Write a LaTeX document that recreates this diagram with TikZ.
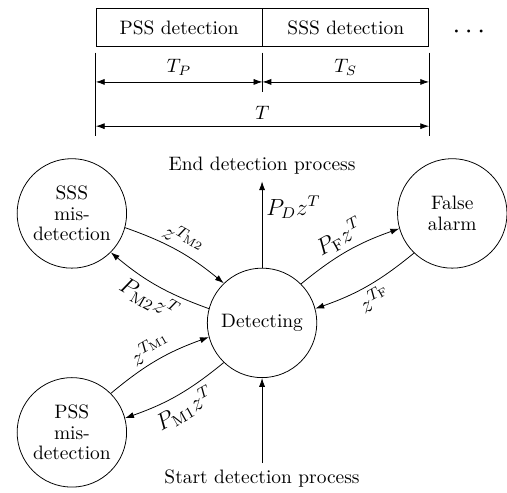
\documentclass[tikz,border=0pt]{standalone}
\usepackage{amsmath}
\usepackage{amssymb}
\usepackage{tikz}
\usetikzlibrary{arrows.meta,positioning,calc}

\begin{document}
\begin{tikzpicture}[
    node distance=0.5cm,
    box/.style={draw, minimum width=3cm, minimum height=0.69cm, text centered},
    stage/.style={draw, circle, minimum size=1.98cm, inner sep=0pt, align=center, font={\fontsize{10}{10.5}\selectfont}},
    arrow/.style={-{Latex[length=1.6mm, width=1.1mm]}},
    dim/.style={{Latex[length=1.6mm, width=1.1mm]}-{Latex[length=1.6mm, width=1.1mm]}},
    lbl/.style={font=\large, inner sep=2pt},
    tick/.style={line width=0.4pt}
]
    \useasboundingbox (-4.74,-3.075) rectangle (4.43,5.84);

    % timing bar
    \node[box] (pssbox) at (-1.5,5.34) {PSS detection};
    \node[box, right=0pt of pssbox] (sssbox) {SSS detection};
    \node[right=0.3cm of sssbox, yshift=-2.5pt] (dots) {\Large$\cdots$};

    \coordinate (l1) at ($(pssbox.south west)+(0,-0.1)$);
    \coordinate (l2) at ($(pssbox.south west)+(0,-1.61)$);
    \coordinate (m1) at ($(pssbox.south east)+(0,-0.1)$);
    \coordinate (m2) at ($(pssbox.south east)+(0,-0.81)$);
    \coordinate (r1) at ($(sssbox.south east)+(0,-0.1)$);
    \coordinate (r2) at ($(sssbox.south east)+(0,-1.61)$);
    \draw[tick] (l1) -- (l2);
    \draw[tick] (m1) -- (m2);
    \draw[tick] (r1) -- (r2);

    \coordinate (a1) at ($(pssbox.south west)+(0,-0.63)$);
    \coordinate (a2) at ($(pssbox.south east)+(0,-0.63)$);
    \coordinate (a3) at ($(sssbox.south east)+(0,-0.63)$);
    \coordinate (b1) at ($(pssbox.south west)+(0,-1.43)$);
    \coordinate (b3) at ($(sssbox.south east)+(0,-1.43)$);
    \draw[dim] (a1) -- (a2) node[midway, above] {$T_P$};
    \draw[dim] (a2) -- (a3) node[midway, above] {$T_S$};
    \draw[dim] (b1) -- (b3) node[midway, above] {$T$};

    % state diagram
    \node[stage] (det) at (0,0) {Detecting};
    \node[stage] (sss) at (-3.44,1.98) {SSS\\mis-\\detection};
    \node[stage] (fa) at (3.44,1.98) {False\\alarm};
    \node[stage] (pss) at (-3.44,-1.98) {PSS\\mis-\\detection};
    \node (stop) at (0,2.84) {End detection process};
    \node (start) at (0,-2.82) {Start detection process};

    \draw[arrow] (det) -- (stop) node[lbl, pos=0.7, right] {$P_D z^T$};
    \draw[arrow] (start) -- (det);

    \draw[arrow] (sss.-15) to[bend left=10] node[lbl, midway, sloped, above] {$z^{T_{\mathrm{M2}}}$} (det.134);
    \draw[arrow] (det.165) to[bend left=10] node[lbl, midway, sloped, below] {$P_{\mathrm{M2}}z^T$} (sss.-45);
    \draw[arrow] (det.45) to[bend left=10] node[lbl, midway, sloped, above] {$P_{\mathrm{F}}z^T$} (fa.196);
    \draw[arrow] (fa.226) to[bend left=10] node[lbl, midway, sloped, below] {$z^{T_{\mathrm{F}}}$} (det.15);
    \draw[arrow] (pss.45) to[bend left=10] node[lbl, midway, sloped, above] {$z^{T_{\mathrm{M1}}}$} (det.195);
    \draw[arrow] (det.226) to[bend left=10] node[lbl, midway, sloped, below] {$P_{\mathrm{M1}}z^T$} (pss.15);
\end{tikzpicture}
\end{document}
